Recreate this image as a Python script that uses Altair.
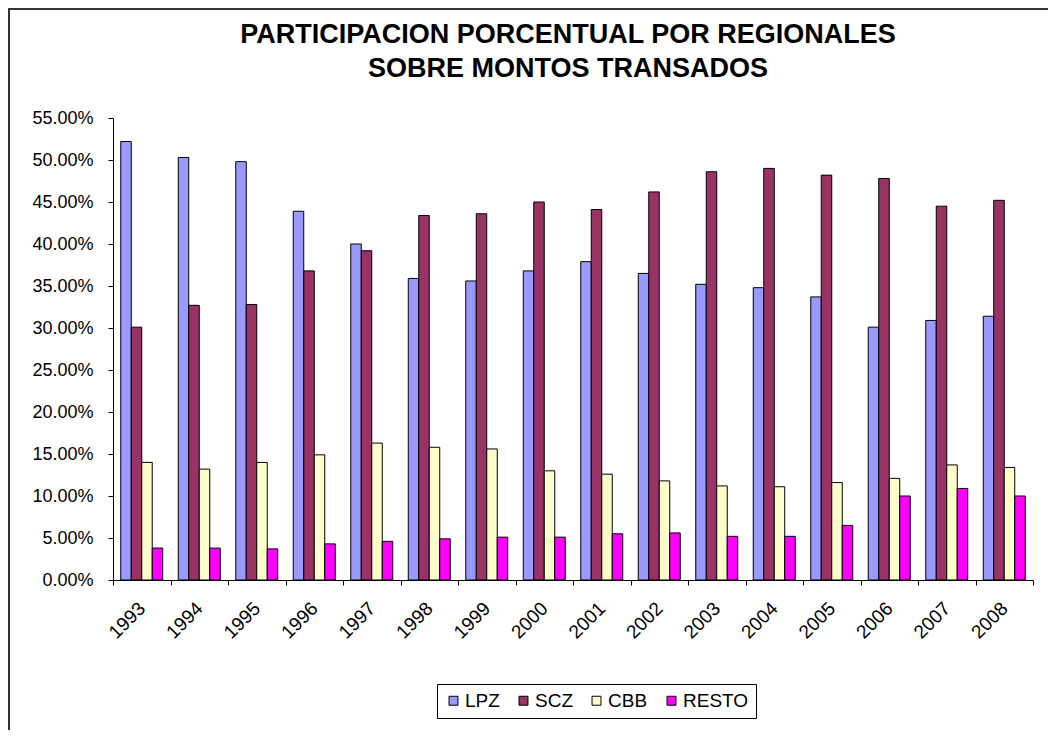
import altair as alt
import pandas as pd

years = ["1993", "1994", "1995", "1996", "1997", "1998", "1999", "2000",
         "2001", "2002", "2003", "2004", "2005", "2006", "2007", "2008"]
regions = ["LPZ", "SCZ", "CBB", "RESTO"]
colors = ["#9999FF", "#993366", "#FFFFCC", "#FF00FF"]

lpz = [52.2, 50.3, 49.8, 43.9, 40.0, 35.9, 35.6, 36.8, 37.9, 36.5, 35.2, 34.8, 33.7, 30.1, 30.9, 31.4]
scz = [30.1, 32.7, 32.8, 36.8, 39.2, 43.4, 43.6, 45.0, 44.1, 46.2, 48.6, 49.0, 48.2, 47.8, 44.5, 45.2]
cbb = [14.0, 13.2, 14.0, 14.9, 16.3, 15.8, 15.6, 13.0, 12.6, 11.8, 11.2, 11.1, 11.6, 12.1, 13.7, 13.4]
resto = [3.8, 3.8, 3.7, 4.3, 4.6, 4.9, 5.1, 5.1, 5.5, 5.6, 5.2, 5.2, 6.5, 10.0, 10.9, 10.0]

y_ticks = [0, 0.05, 0.10, 0.15, 0.20, 0.25, 0.30, 0.35, 0.40, 0.45, 0.50, 0.55]
title_lines = ["PARTICIPACION PORCENTUAL POR REGIONALES", "SOBRE MONTOS TRANSADOS"]

rows = []
for name, series in zip(regions, [lpz, scz, cbb, resto]):
    for yr, v in zip(years, series):
        rows.append({"year": yr, "region": name, "value": v / 100.0})
df = pd.DataFrame(rows)

FONT = "Liberation Sans"
one = pd.DataFrame({"a": [0]})

frame = alt.Chart(one).mark_rect(
    fill="white", fillOpacity=0, stroke="#333333", strokeWidth=2, clip=False
).encode(
    x=alt.value(-104), x2=alt.value(1000), y=alt.value(-109), y2=alt.value(700)
)

title1 = alt.Chart(one).mark_text(
    font=FONT, fontSize=27, fontWeight="bold", color="black",
    align="center", baseline="alphabetic", clip=False
).encode(x=alt.value(455), y=alt.value(-75), text=alt.value(title_lines[0]))

title2 = alt.Chart(one).mark_text(
    font=FONT, fontSize=27, fontWeight="bold", color="black",
    align="center", baseline="alphabetic", clip=False
).encode(x=alt.value(455), y=alt.value(-41), text=alt.value(title_lines[1]))

bars = alt.Chart(df).mark_bar(stroke="black", strokeWidth=1).encode(
    x=alt.X("year:N", sort=years,
            scale=alt.Scale(paddingInner=0, paddingOuter=0),
            axis=alt.Axis(title=None, labelAngle=-45, labelAlign="right",
                          labelBaseline="middle", tickBand="extent",
                          labelFontSize=19, labelFont=FONT, labelColor="black",
                          labelPadding=20, tickSize=5, tickColor="black",
                          domainColor="black", grid=False)),
    xOffset=alt.XOffset("region:N", sort=regions,
                        scale=alt.Scale(paddingInner=0, paddingOuter=0.74)),
    y=alt.Y("value:Q", scale=alt.Scale(domain=[0, 0.55], nice=False),
            axis=alt.Axis(title=None, values=y_ticks, format=".2%",
                          labelFontSize=18, labelFont=FONT, labelColor="black",
                          labelPadding=15, tickSize=5, tickColor="black",
                          domainColor="black", grid=False)),
    color=alt.Color("region:N", sort=regions,
                    scale=alt.Scale(domain=regions, range=colors),
                    legend=alt.Legend(title=None, orient="none", legendX=324, legendY=566,
                                      direction="horizontal", columns=4,
                                      strokeColor="black", fillColor="white",
                                      padding=7, symbolType="square", symbolSize=80,
                                      symbolStrokeColor="black", symbolStrokeWidth=1,
                                      labelFontSize=19, labelFont=FONT, labelColor="black",
                                      labelOffset=2, columnPadding=14)),
)

chart = alt.layer(frame, title1, title2, bars).properties(
    width=920, height=462,
    autosize=alt.AutoSizeParams(type="none"),
    padding={"left": 105, "top": 110, "right": 15, "bottom": 150},
).configure_view(stroke=None)

chart.save("out.html", embed_options={"renderer": "svg", "actions": False})
